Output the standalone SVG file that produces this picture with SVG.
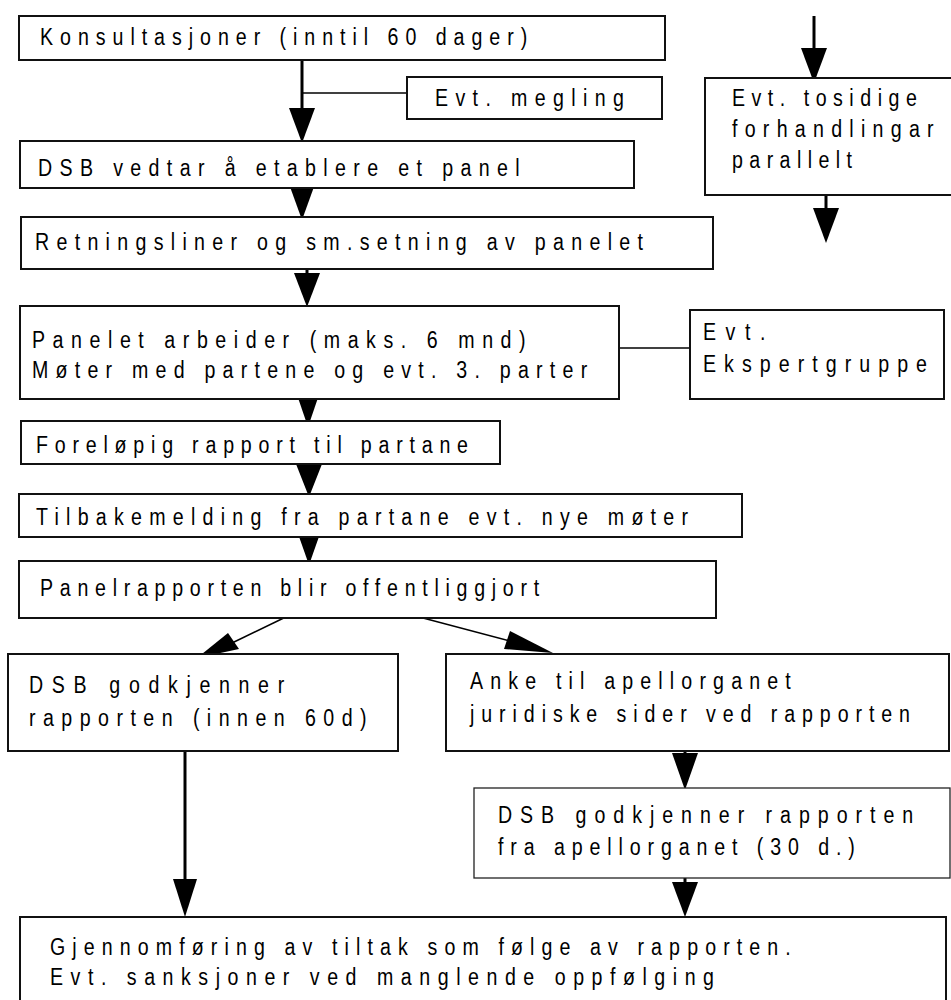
<svg xmlns="http://www.w3.org/2000/svg" width="951" height="1000" viewBox="0 0 951 1000">
<style>
.box{fill:#fff;stroke:#111;stroke-width:2}
.thin{fill:#fff;stroke:#222;stroke-width:1.3}
.t{font-family:"Liberation Sans",Arial,sans-serif;font-size:24.5px;fill:#000}
.ln{stroke:#000;stroke-width:3;fill:none}
.cn{stroke:#000;stroke-width:1.5;fill:none}
.ah{fill:#000;stroke:none}
</style>
<rect width="951" height="1000" fill="#fff"/>
<g id="connectors">
<line class="ln" x1="302" y1="60" x2="302" y2="112"/>
<polygon class="ah" points="289,108 315,108 302,143"/>
<line class="cn" x1="302" y1="93" x2="407" y2="93"/>
<polygon class="ah" points="289,184 315,184 302,220"/>
<line class="ln" x1="307" y1="269" x2="307" y2="276"/>
<polygon class="ah" points="294,273 320,273 307,307"/>
<line class="cn" x1="619" y1="348" x2="690" y2="348"/>
<polygon class="ah" points="295,389 321,389 308,427"/>
<line class="ln" x1="309" y1="458" x2="309" y2="466"/>
<polygon class="ah" points="296,464 322,464 309,497"/>
<polygon class="ah" points="296,528 322,528 309,565"/>
<line class="cn" x1="292" y1="614" x2="232" y2="643"/>
<polygon class="ah" points="197,658 228,633 239,649"/>
<line class="cn" x1="423" y1="618" x2="510" y2="641"/>
<polygon class="ah" points="553,653 504,649 510,631"/>
<line class="ln" x1="185" y1="751" x2="185" y2="882"/>
<polygon class="ah" points="173,879 197,879 185,917"/>
<line class="ln" x1="685" y1="748" x2="685" y2="756"/>
<polygon class="ah" points="672,753 698,753 685,790"/>
<line class="ln" x1="685" y1="875" x2="685" y2="884"/>
<polygon class="ah" points="672,882 698,882 685,917"/>
<line class="ln" x1="814" y1="16" x2="814" y2="52"/>
<polygon class="ah" points="801,48 827,48 814,83"/>
<line class="ln" x1="826" y1="190" x2="826" y2="212"/>
<polygon class="ah" points="813,208 839,208 826,243"/>
</g>
<g id="n1"><rect class="box" x="19" y="16" width="646" height="44"/>
<text class="t" transform="translate(40 45) scale(0.8 1)" textLength="609" lengthAdjust="spacing">Konsultasjoner (inntil 60 dager)</text></g>
<g id="n2"><rect class="box" x="407" y="77" width="255" height="42"/>
<text class="t" transform="translate(435 106) scale(0.8 1)" textLength="236" lengthAdjust="spacing">Evt. megling</text></g>
<g id="n3"><rect class="box" x="20" y="141" width="614" height="47"/>
<text class="t" transform="translate(38 176) scale(0.8 1)" textLength="602" lengthAdjust="spacing">DSB vedtar å etablere et panel</text></g>
<g id="n4"><rect class="box" x="21" y="217" width="692" height="52"/>
<text class="t" transform="translate(35 250) scale(0.8 1)" textLength="760" lengthAdjust="spacing">Retningsliner og sm.setning av panelet</text></g>
<g id="n5"><rect class="box" x="20" y="306" width="599" height="93"/>
<text class="t" transform="translate(32 348) scale(0.8 1)" textLength="617" lengthAdjust="spacing">Panelet arbeider (maks. 6 mnd)</text>
<text class="t" transform="translate(32 378) scale(0.8 1)" textLength="694" lengthAdjust="spacing">Møter med partene og evt. 3. parter</text></g>
<g id="n6"><rect class="box" x="690" y="310" width="254" height="89"/>
<text class="t" transform="translate(703 340) scale(0.8 1)" textLength="78" lengthAdjust="spacing">Evt.</text>
<text class="t" transform="translate(703 372) scale(0.8 1)" textLength="280" lengthAdjust="spacing">Ekspertgruppe</text></g>
<g id="n7"><rect class="box" x="705" y="78" width="260" height="117"/>
<text class="t" transform="translate(732 106) scale(0.8 1)" textLength="231" lengthAdjust="spacing">Evt. tosidige</text>
<text class="t" transform="translate(732 137) scale(0.8 1)" textLength="252" lengthAdjust="spacing">forhandlingar</text>
<text class="t" transform="translate(732 168) scale(0.8 1)" textLength="150" lengthAdjust="spacing">parallelt</text></g>
<g id="n8"><rect class="box" x="21" y="421" width="479" height="43"/>
<text class="t" transform="translate(36 453) scale(0.8 1)" textLength="540" lengthAdjust="spacing">Foreløpig rapport til partane</text></g>
<g id="n9"><rect class="box" x="19" y="494" width="723" height="43"/>
<text class="t" transform="translate(36 525) scale(0.8 1)" textLength="815" lengthAdjust="spacing">Tilbakemelding fra partane evt. nye møter</text></g>
<g id="n10"><rect class="box" x="19" y="561" width="697" height="57"/>
<text class="t" transform="translate(40 596) scale(0.8 1)" textLength="624" lengthAdjust="spacing">Panelrapporten blir offentliggjort</text></g>
<g id="n11"><rect class="box" x="8" y="654" width="390" height="97"/>
<text class="t" transform="translate(29 693) scale(0.8 1)" textLength="319" lengthAdjust="spacing">DSB godkjenner</text>
<text class="t" transform="translate(29 726) scale(0.8 1)" textLength="422" lengthAdjust="spacing">rapporten (innen 60d)</text></g>
<g id="n12"><rect class="box" x="446" y="654" width="503" height="97"/>
<text class="t" transform="translate(470 689) scale(0.8 1)" textLength="401" lengthAdjust="spacing">Anke til apellorganet</text>
<text class="t" transform="translate(470 722) scale(0.8 1)" textLength="550" lengthAdjust="spacing">juridiske sider ved rapporten</text></g>
<g id="n13"><rect class="thin" x="474" y="788" width="476" height="90"/>
<text class="t" transform="translate(498 823) scale(0.8 1)" textLength="519" lengthAdjust="spacing">DSB godkjenner rapporten</text>
<text class="t" transform="translate(498 855) scale(0.8 1)" textLength="446" lengthAdjust="spacing">fra apellorganet (30 d.)</text></g>
<g id="n14"><rect class="box" x="20" y="917" width="926" height="90"/>
<text class="t" transform="translate(50 955) scale(0.8 1)" textLength="926" lengthAdjust="spacing">Gjennomføring av tiltak som følge av rapporten.</text>
<text class="t" transform="translate(50 985) scale(0.8 1)" textLength="830" lengthAdjust="spacing">Evt. sanksjoner ved manglende oppfølging</text></g>
</svg>
